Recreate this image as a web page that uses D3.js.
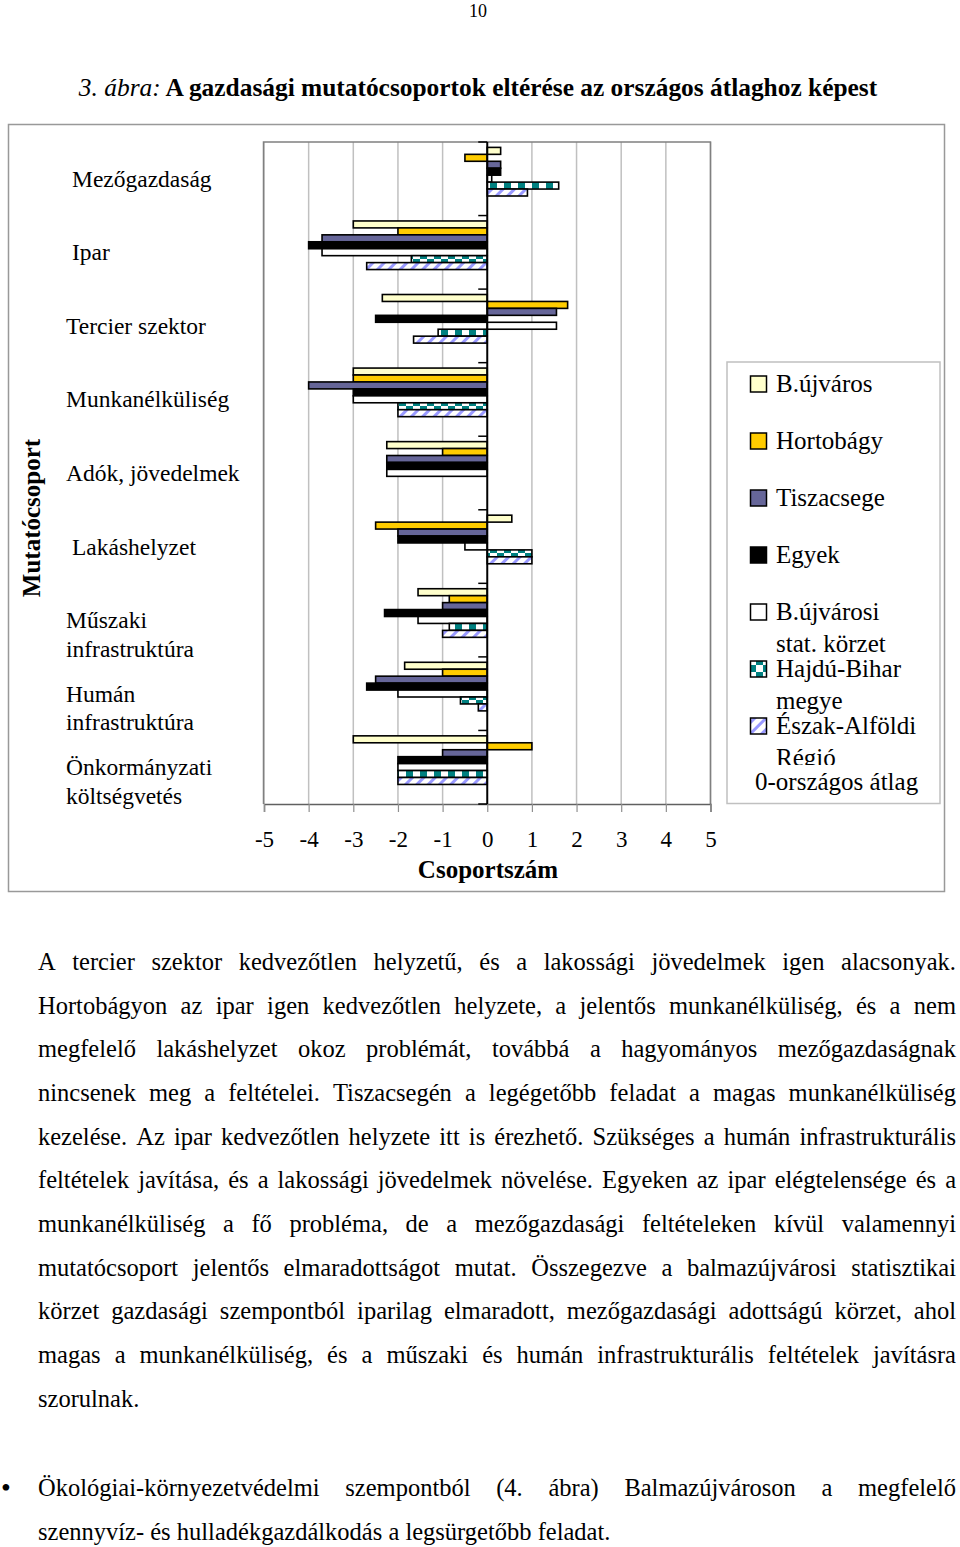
<!DOCTYPE html>
<html>
<head>
<meta charset="utf-8">
<script src="https://cdn.jsdelivr.net/npm/d3@7"></script>
<style>
  html, body { margin: 0; padding: 0; background: #fff; }
  svg { display: block; }
  text { font-family: "Liberation Serif", "Times New Roman", serif; fill: #000; }
</style>
</head>
<body>
<svg id="page" width="960" height="1547"></svg>
<script>
// ---------------- DATA ----------------
const categories = [
  "Mezőgazdaság", "Ipar", "Tercier szektor", "Munkanélküliség", "Adók, jövedelmek",
  "Lakáshelyzet", "Műszaki infrastruktúra", "Humán infrastruktúra", "Önkormányzati költségvetés"
];
const categoryLabelLines = [
  ["Mezőgazdaság"], ["Ipar"], ["Tercier szektor"], ["Munkanélküliség"], ["Adók, jövedelmek"],
  ["Lakáshelyzet"], ["Műszaki", "infrastruktúra"], ["Humán", "infrastruktúra"], ["Önkormányzati", "költségvetés"]
];
const seriesNames = ["B.újváros", "Hortobágy", "Tiszacsege", "Egyek", "B.újvárosi stat. körzet", "Hajdú-Bihar megye", "Észak-Alföldi Régió"];
const legendLines = [["B.újváros"], ["Hortobágy"], ["Tiszacsege"], ["Egyek"], ["B.újvárosi", "stat. körzet"], ["Hajdú-Bihar", "megye"], ["Észak-Alföldi", "Régió"]];
// values per series, in category order
const bujvaros   = [ 0.3, -3.0, -2.35, -3.0, -2.25,  0.55, -1.55, -1.85, -3.0];
const hortobagy  = [-0.5, -2.0,  1.8,  -3.0, -1.0,  -2.5,  -0.85, -1.0,   1.0];
const tiszacsege = [ 0.3, -3.7,  1.55, -4.0, -2.25, -2.0,  -1.0,  -2.5,  -1.0];
const egyek      = [ 0.3, -4.0, -2.5,  -3.0, -2.25, -2.0,  -2.3,  -2.7,  -2.0];
const korzet     = [ 0.1, -3.7,  1.55, -3.0, -2.25, -0.5,  -1.55, -2.0,  -2.0];
const hajduBihar = [ 1.6, -1.7, -1.1,  -2.0,  0.0,   1.0,  -0.85, -0.6,  -2.0];
const eszakAlfold= [ 0.9, -2.7, -1.65, -2.0,  0.0,   1.0,  -1.0,  -0.2,  -2.0];
const seriesValues = [bujvaros, hortobagy, tiszacsege, egyek, korzet, hajduBihar, eszakAlfold];
const xTicks = [-5, -4, -3, -2, -1, 0, 1, 2, 3, 4, 5];

const titleItalic = "3. ábra:";
const titleBold = " A gazdasági mutatócsoportok eltérése az országos átlaghoz képest";
const paragraphLines = [
  "A tercier szektor kedvezőtlen helyzetű, és a lakossági jövedelmek igen alacsonyak.",
  "Hortobágyon az ipar igen kedvezőtlen helyzete, a jelentős munkanélküliség, és a nem",
  "megfelelő lakáshelyzet okoz problémát, továbbá a hagyományos mezőgazdaságnak",
  "nincsenek meg a feltételei. Tiszacsegén a legégetőbb feladat a magas munkanélküliség",
  "kezelése. Az ipar kedvezőtlen helyzete itt is érezhető. Szükséges a humán infrastrukturális",
  "feltételek javítása, és a lakossági jövedelmek növelése. Egyeken az ipar elégtelensége és a",
  "munkanélküliség a fő probléma, de a mezőgazdasági feltételeken kívül valamennyi",
  "mutatócsoport jelentős elmaradottságot mutat. Összegezve a balmazújvárosi statisztikai",
  "körzet gazdasági szempontból iparilag elmaradott, mezőgazdasági adottságú körzet, ahol",
  "magas a munkanélküliség, és a műszaki és humán infrastrukturális feltételek javításra",
  "szorulnak."
];
const bulletLines = [
  "Ökológiai-környezetvédelmi szempontból (4. ábra) Balmazújvároson a megfelelő",
  "szennyvíz- és hulladékgazdálkodás a legsürgetőbb feladat."
];

// ---------------- DRAW ----------------
const svg = d3.select("#page");
const defs = svg.append("defs");

// patterns
const checker = defs.append("pattern").attr("id", "checker")
  .attr("patternUnits", "userSpaceOnUse").attr("width", 14).attr("height", 14);
checker.append("rect").attr("width", 14).attr("height", 14).attr("fill", "#fff");
checker.append("rect").attr("x", 0).attr("y", 0).attr("width", 7).attr("height", 7).attr("fill", "#008080");
checker.append("rect").attr("x", 7).attr("y", 7).attr("width", 7).attr("height", 7).attr("fill", "#008080");

const diag = defs.append("pattern").attr("id", "diag")
  .attr("patternUnits", "userSpaceOnUse").attr("width", 8).attr("height", 8)
  .attr("patternTransform", "rotate(45)");
diag.append("rect").attr("width", 8).attr("height", 8).attr("fill", "#fff");
diag.append("rect").attr("x", 0).attr("y", 0).attr("width", 3).attr("height", 8).attr("fill", "#9999ff");

const fills = ["#ffffcc", "#ffcc00", "#666699", "#000000", "#ffffff", "url(#checker)", "url(#diag)"];

// page number
svg.append("text").attr("x", 478).attr("y", 17).attr("text-anchor", "middle")
  .style("font-size", "18px").text("10");

// title
const title = svg.append("text").attr("x", 478).attr("y", 96).attr("text-anchor", "middle")
  .style("font-size", "25.4px");
title.append("tspan").style("font-style", "italic").text(titleItalic);
title.append("tspan").style("font-weight", "bold").text(titleBold);

// outer frame
svg.append("rect").attr("x", 8.5).attr("y", 124.5).attr("width", 936).attr("height", 767)
  .attr("fill", "none").attr("stroke", "#999").attr("stroke-width", 1.5);

// scales
const plot = { left: 263.5, right: 710.5, top: 142, bottom: 804 };
const x = d3.scaleLinear().domain([-5, 5]).range([plot.left + 0.5, plot.right]);
const y = d3.scaleBand().domain(categories).range([plot.top, plot.bottom]).padding(0);
const ySeries = d3.scaleBand().domain(seriesNames).range([5.4, 54]).padding(0);

// gridlines
const g = svg.append("g");
g.selectAll("line.grid").data(xTicks.filter(t => t !== 0)).join("line")
  .attr("x1", d => x(d)).attr("x2", d => x(d))
  .attr("y1", plot.top).attr("y2", plot.bottom)
  .attr("stroke", "#c0c0c0").attr("stroke-width", 1.5);

// plot border (top, left, right gray)
g.append("path")
  .attr("d", `M${plot.left},${plot.bottom} V${plot.top} H${plot.right} V${plot.bottom}`)
  .attr("fill", "none").attr("stroke", "#808080").attr("stroke-width", 1.5);

// x axis (bottom)
const xAxis = d3.axisBottom(x).tickValues(xTicks).tickSize(8).tickFormat(d => d);
const xg = svg.append("g").attr("transform", `translate(0,${plot.bottom})`).call(xAxis);
xg.select(".domain").attr("stroke", "#606060").attr("stroke-width", 1.5);
xg.selectAll(".tick line").attr("stroke", "#909090").attr("stroke-width", 1.2);
xg.selectAll(".tick text").attr("y", 0).attr("dy", "43px")
  .style("font-family", '"Liberation Serif", serif').style("font-size", "23px").attr("fill", "#000");

svg.append("text").attr("x", 488).attr("y", 878).attr("text-anchor", "middle")
  .style("font-size", "25px").style("font-weight", "bold").text("Csoportszám");

// bars
const barsG = svg.append("g");
seriesNames.forEach((s, si) => {
  barsG.selectAll(null).data(categories.map((c, ci) => ({ c, v: seriesValues[si][ci] })))
    .join("rect")
    .filter(d => d.v !== 0)
    .attr("x", d => Math.min(x(0), x(d.v)))
    .attr("width", d => Math.abs(x(d.v) - x(0)))
    .attr("y", d => y(d.c) + ySeries(s))
    .attr("height", ySeries.bandwidth())
    .attr("fill", fills[si])
    .attr("stroke", "#000").attr("stroke-width", 1.6);
});

// category (zero) axis with ticks at category boundaries
const boundaries = categories.map(c => y(c)).concat([plot.bottom]);
svg.append("line").attr("x1", x(0)).attr("x2", x(0)).attr("y1", plot.top).attr("y2", plot.bottom)
  .attr("stroke", "#000").attr("stroke-width", 2);
svg.selectAll("line.ctick").data(boundaries).join("line")
  .attr("x1", x(0) - 9).attr("x2", x(0)).attr("y1", d => d).attr("y2", d => d)
  .attr("stroke", "#000").attr("stroke-width", 1.5);

// category labels
const indented = new Set(["Mezőgazdaság", "Ipar", "Lakáshelyzet"]);
categories.forEach((c, i) => {
  const t = svg.append("text").attr("x", indented.has(c) ? 72 : 66)
    .attr("y", y(c) + y.bandwidth() / 2 + 8).style("font-size", "23.5px");
  categoryLabelLines[i].forEach((ln, li) => {
    t.append("tspan").attr("x", indented.has(c) ? 72 : 66).attr("dy", li === 0 ? 0 : 28.5).text(ln);
  });
});

// y axis title
svg.append("text").attr("transform", "translate(40,518) rotate(-90)").attr("text-anchor", "middle")
  .style("font-size", "25px").style("font-weight", "bold").text("Mutatócsoport");

// legend
svg.append("rect").attr("x", 727).attr("y", 362).attr("width", 213).attr("height", 441.5)
  .attr("fill", "#fff").attr("stroke", "#c0c0c0").attr("stroke-width", 1.5);
const legG = svg.append("g");
seriesNames.forEach((s, i) => {
  const top = 376 + i * 57;
  legG.append("rect").attr("x", 750.5).attr("y", top).attr("width", 16).attr("height", 16)
    .attr("fill", fills[i]).attr("stroke", "#000").attr("stroke-width", 1.5);
  const t = legG.append("text").attr("x", 776).attr("y", top + 16).style("font-size", "25px");
  legendLines[i].forEach((ln, li) => {
    t.append("tspan").attr("x", 776).attr("dy", li === 0 ? 0 : 32).text(ln);
  });
});
// "0-országos átlag" entry with a white text box covering part of "Régió"
legG.append("rect").attr("x", 740).attr("y", 765).attr("width", 190).attr("height", 36).attr("fill", "#fff");
legG.append("text").attr("x", 755).attr("y", 790).style("font-size", "25px").text("0-országos átlag");

// justified text helper
function justifiedLine(parent, str, x0, x1, yy, justify, size) {
  const words = str.split(" ");
  const nodes = words.map(w => parent.append("text").attr("y", yy).style("font-size", size + "px").text(w));
  const widths = nodes.map(n => n.node().getComputedTextLength());
  const total = d3.sum(widths);
  const space = size * 0.25;
  const gap = justify && words.length > 1 ? (x1 - x0 - total) / (words.length - 1) : space;
  let cx = x0;
  nodes.forEach((n, i) => { n.attr("x", cx); cx += widths[i] + gap; });
}

const textG = svg.append("g");
paragraphLines.forEach((ln, i) => {
  justifiedLine(textG, ln, 38, 956, 970 + i * 43.65, i < paragraphLines.length - 1, 24.5);
});
svg.append("text").attr("x", 1).attr("y", 1497).style("font-size", "28px").text("•");
bulletLines.forEach((ln, i) => {
  justifiedLine(textG, ln, 38, 956, 1496 + i * 43.65, i < bulletLines.length - 1, 24.5);
});
</script>
</body>
</html>
